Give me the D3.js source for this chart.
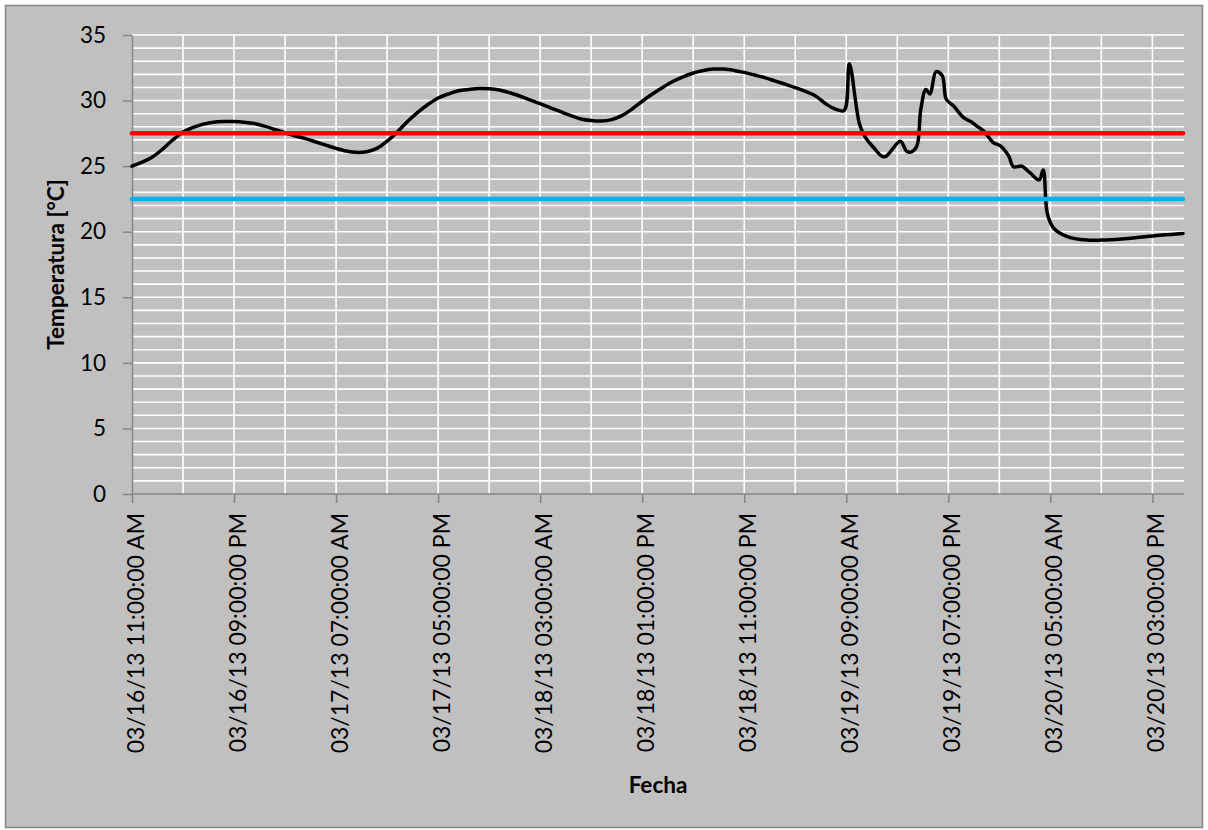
<!DOCTYPE html>
<html>
<head>
<meta charset="utf-8">
<script src="https://cdn.jsdelivr.net/npm/d3@7"></script>
<style>
	body{ margin:0; background:#ffffff; }
	text{ font-family: Lato, "Open Sans", sans-serif; fill:#000000; }
	.grid line{ stroke:#ffffff; stroke-width:1.6; }
	.axis path, .axis line{ stroke:#868686; stroke-width:1.5; }
</style>
</head>
<body>
<script>
//time series, hours counted from the first reading (03/16/13 11:00 AM)
var startTime = "03/16/13 11:00:00 AM";
var hours = [0,1,2,3,4,5,6,7,8,9,10,11,12,13,14,15,16,17,18,19,20,21,22,23,24,25,26,27,28,29,
	30,31,32,33,34,35,36,37,38,39,40,41,42,43,44,45,46,47,48,49,50,51,52,53,54,55,56,57,58,59,
	60,61,62,63,64,65,66,67,68,69,69.8,70.3,71.3,71.9,72.7,73.5,73.9,75.3,75.9,76.3,76.9,77.3,77.8,78.2,
	78.8,79.4,79.8,80.5,81.5,82.2,82.8,83.5,84.4,85.1,85.9,86.4,87.2,88,88.9,89.3,89.7,90.3,91.6,93.6,
	95,97,99,101,103];
var temps = [25.0,25.3,25.7,26.3,27.0,27.6,27.95,28.2,28.35,28.4,28.4,28.35,28.25,28.05,27.8,27.55,27.3,27.1,26.85,26.6,
	26.35,26.15,26.05,26.1,26.35,26.9,27.6,28.4,29.1,29.7,30.2,30.5,30.75,30.85,30.92,30.9,30.8,30.6,30.35,30.05,
	29.76,29.45,29.15,28.85,28.6,28.48,28.44,28.55,28.85,29.35,29.95,30.5,31.0,31.45,31.8,32.1,32.3,32.4,32.4,32.3,
	32.15,31.95,31.75,31.5,31.25,30.98,30.7,30.35,29.75,29.33,29.25,32.8,28.2,27.15,26.4,25.75,25.75,26.9,26.15,26.07,
	26.5,29.3,30.85,30.5,32.2,31.9,30.1,29.6,28.7,28.4,28.05,27.65,26.8,26.55,25.8,24.95,25.0,24.5,23.95,24.7,
	21.4,20.3,19.65,19.36,19.36,19.45,19.6,19.75,19.87];
var endHour = 103;

//comfort limits
var limitNames = ["superior","inferior"];
var limitValues = [27.5, 22.5];
var limitColors = ["#ff0000","#00b0f0"];

//axis ticks
var yTicks = [0,5,10,15,20,25,30,35];
var tickLabels = ["03/16/13 11:00:00 AM","03/16/13 09:00:00 PM","03/17/13 07:00:00 AM","03/17/13 05:00:00 PM",
	"03/18/13 03:00:00 AM","03/18/13 01:00:00 PM","03/18/13 11:00:00 PM","03/19/13 09:00:00 AM",
	"03/19/13 07:00:00 PM","03/20/13 05:00:00 AM","03/20/13 03:00:00 PM"];

window.onload = setChart();

function setChart(){
	var width = 1208,
		height = 830,
		left = 132,
		right = 1183,
		top = 35,
		bottom = 494;

	var parse = d3.timeParse("%m/%d/%y %I:%M:%S %p");
	var t0 = parse(startTime);
	var toDate = function(h){ return new Date(t0.getTime() + h * 3600000); };

	var svg = d3.select("body")
		.append("svg")
		.attr("width", width)
		.attr("height", height);

	//chart area with frame
	svg.append("rect")
		.attr("x", 5.5)
		.attr("y", 5.5)
		.attr("width", 1197)
		.attr("height", 822)
		.style("fill", "#c0c0c0")
		.style("stroke", "#868686")
		.style("stroke-width", 1.5);

	var x = d3.scaleTime()
		.domain([t0, toDate(endHour)])
		.range([left, right]);

	var y = d3.scaleLinear()
		.domain([0, 35])
		.range([bottom, top]);

	//gridlines: every degree, every 5 hours
	var grid = svg.append("g").attr("class", "grid");
	grid.selectAll(".hgrid")
		.data(d3.range(1, 36))
		.enter()
		.append("line")
		.attr("x1", left)
		.attr("x2", right + 1)
		.attr("y1", function(d){ return y(d); })
		.attr("y2", function(d){ return y(d); });
	grid.selectAll(".vgrid")
		.data(d3.range(5, endHour, 5))
		.enter()
		.append("line")
		.attr("x1", function(d){ return x(toDate(d)); })
		.attr("x2", function(d){ return x(toDate(d)); })
		.attr("y1", top)
		.attr("y2", bottom);

	//axes
	var yAxis = d3.axisLeft(y)
		.tickValues(yTicks)
		.tickSize(9)
		.tickPadding(17)
		.tickSizeOuter(0);
	var yG = svg.append("g")
		.attr("class", "axis")
		.attr("transform", "translate(" + left + ",0)")
		.call(yAxis);
	yG.selectAll("text")
		.style("font-size", "22.5px");

	var xAxis = d3.axisBottom(x)
		.tickValues(tickLabels.map(parse))
		.tickFormat(d3.timeFormat("%m/%d/%y %I:%M:%S %p"))
		.tickSize(9)
		.tickSizeOuter(0);
	var xG = svg.append("g")
		.attr("class", "axis")
		.attr("transform", "translate(0," + bottom + ")")
		.call(xAxis);
	xG.select(".domain").attr("d", "M" + left + ",0H" + (right + 1));
	xG.selectAll("text")
		.style("font-size", "23px")
		.style("text-anchor", "end")
		.attr("dy", "0.4em")
		.attr("x", -19)
		.attr("y", 2)
		.attr("transform", "rotate(-90)");

	//temperature line
	var line = d3.line()
		.x(function(d){ return x(toDate(d[0])); })
		.y(function(d){ return y(d[1]); })
		.curve(d3.curveCatmullRom.alpha(0.5));

	svg.append("path")
		.datum(d3.zip(hours, temps))
		.attr("d", line)
		.style("fill", "none")
		.style("stroke", "#000000")
		.style("stroke-width", 3.5)
		.style("stroke-linejoin", "round")
		.style("stroke-linecap", "round");

	//limit lines
	svg.selectAll(".limit")
		.data(limitNames)
		.enter()
		.append("line")
		.attr("class", function(d){ return "limit " + d; })
		.attr("x1", x(t0))
		.attr("x2", x(toDate(endHour)))
		.attr("y1", function(d, i){ return y(limitValues[i]); })
		.attr("y2", function(d, i){ return y(limitValues[i]); })
		.style("stroke", function(d, i){ return limitColors[i]; })
		.style("stroke-width", 4.5)
		.style("stroke-linecap", "round");

	//axis titles
	svg.append("text")
		.attr("transform", "translate(64," + ((top + bottom) / 2) + ") rotate(-90)")
		.attr("text-anchor", "middle")
		.style("font-size", "22.5px")
		.style("font-weight", "bold")
		.text("Temperatura [°C]");

	svg.append("text")
		.attr("x", 658)
		.attr("y", 793)
		.attr("text-anchor", "middle")
		.style("font-size", "22.5px")
		.style("font-weight", "bold")
		.text("Fecha");
};
</script>
</body>
</html>
